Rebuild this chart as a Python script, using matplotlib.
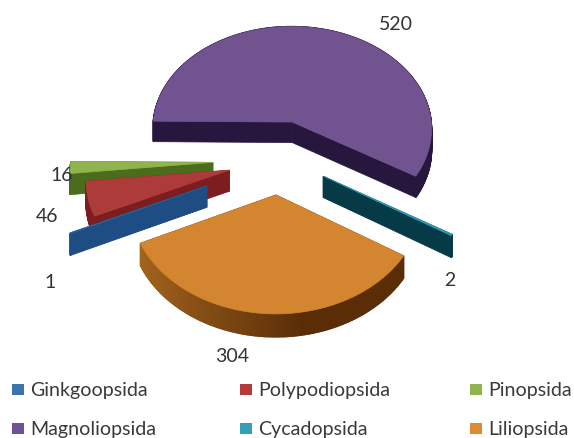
import matplotlib
matplotlib.use("Agg")
import matplotlib.pyplot as plt
import numpy as np
from matplotlib.patches import Polygon, Rectangle

plt.rcParams['font.family'] = ['Lato', 'DejaVu Sans']

categories = ["Ginkgoopsida", "Polypodiopsida", "Pinopsida", "Magnoliopsida", "Cycadopsida", "Liliopsida"]
values = [1, 46, 16, 520, 2, 304]

# styles, one per slice
top_colors = ["#2f6196", "#ad3b39", "#8fb44e", "#71548f", "#2b9db5", "#d3862f"]
wall_left = ["#1d4d82", "#7c1e1f", "#4b6c1d", "#27163d", "#073a47", "#a8681f"]
wall_right = ["#1d4d82", "#7c1e1f", "#4b6c1d", "#27163d", "#073a47", "#5a2d07"]
legend_colors = ["#3a73b0", "#b53a38", "#93b350", "#71509a", "#2fa0b8", "#de8a30"]
explode = [0.55, 0.36, 0.465, 0.35, 0.36, 0.35]
nudge_y = [5, 4, 4, 1, 0, 1]
draw_order = [3, 2, 1, 0, 4, 5]

# value labels
label_x = [50, 47, 62, 396, 450, 232]
label_y = [283, 217, 176, 24, 281, 357]

# legend
legend_x = [12, 240, 470, 12, 240, 470]
legend_y = [391, 391, 391, 430, 430, 430]

start_angle = -155.0
cx, cy = 279, 157
rx, ry = 142, 106
k = 0.065
depth = 21


def project(u, v, drop=0.0):
    s = 1 / (1 + k * v)
    return cx + rx * u * s, cy - ry * v * s + drop * s


def mix(c1, c2, t):
    a = np.array(matplotlib.colors.to_rgb(c1))
    b = np.array(matplotlib.colors.to_rgb(c2))
    return tuple(a + (b - a) * t)


fig = plt.figure(figsize=(5.74, 4.39), dpi=100)
ax = fig.add_axes([0, 0, 1, 1])
ax.set_xlim(0, 574)
ax.set_ylim(439, 0)
ax.axis('off')

total = sum(values)
angles = [start_angle]
for val in values:
    angles.append(angles[-1] - val / total * 360)

for i in draw_order:
    t0, t1 = np.radians(angles[i]), np.radians(angles[i + 1])
    mid = (t0 + t1) / 2
    ou, ov = explode[i] * np.cos(mid), explode[i] * np.sin(mid)
    tt = np.linspace(t0, t1, max(3, int(abs(angles[i + 1] - angles[i])) * 2))
    us = ou + np.cos(tt)
    vs = ov + np.sin(tt)
    z = draw_order.index(i) * 3
    d = nudge_y[i]

    # radial walls
    for u_end, v_end in [(us[0], vs[0]), (us[-1], vs[-1])]:
        pts = [project(ou, ov, d), project(u_end, v_end, d),
               project(u_end, v_end, d + depth), project(ou, ov, d + depth)]
        ax.add_patch(Polygon(pts, closed=True, fc=wall_right[i], ec=wall_right[i], lw=0.5, zorder=z + 1))

    # outer wall, in small pieces so the shade can change
    for j in range(len(tt) - 1):
        shade = (np.cos(tt[j]) + 1) / 2
        col = mix(wall_left[i], wall_right[i], min(1, shade * 1.7))
        pts = [project(us[j], vs[j], d), project(us[j + 1], vs[j + 1], d),
               project(us[j + 1], vs[j + 1], d + depth), project(us[j], vs[j], d + depth)]
        ax.add_patch(Polygon(pts, closed=True, fc=col, ec=col, lw=1.0, zorder=z + 2))

    # top
    top = [project(ou, ov, d)] + [project(a, b, d) for a, b in zip(us, vs)]
    ax.add_patch(Polygon(top, closed=True, fc=top_colors[i], ec=top_colors[i], lw=0.5, zorder=z + 3))

for i in range(len(values)):
    ax.text(label_x[i], label_y[i], str(values[i]), fontsize=14, color="#333333",
            ha='center', va='center', zorder=40)

for i in range(len(categories)):
    ax.add_patch(Rectangle((legend_x[i], legend_y[i] - 5.5), 12, 11, fc=legend_colors[i], ec='none', zorder=40))
    ax.text(legend_x[i] + 18, legend_y[i], categories[i], fontsize=14.1, color="#3a3a3a",
            ha='left', va='center', zorder=40)

fig.savefig("out.png", dpi=100)
